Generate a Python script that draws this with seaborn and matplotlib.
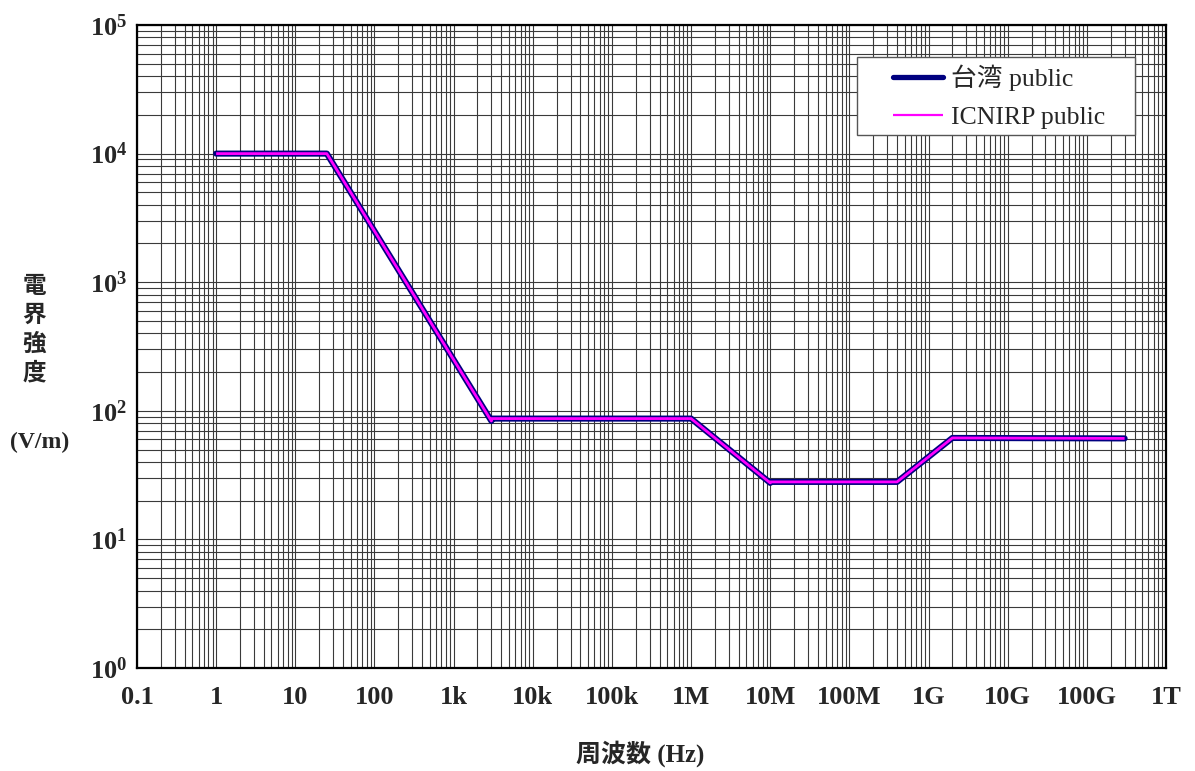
import matplotlib
matplotlib.use("Agg")
import matplotlib.pyplot as plt
import numpy as np
import pandas as pd
import seaborn as sns
from matplotlib.patches import Rectangle
from matplotlib.ticker import FixedLocator, LogLocator, NullFormatter

# Public-exposure electric field reference levels (Hz, V/m)
freq_taiwan = [1, 25, 3000, 3000, 1e6, 1e7, 1e7, 4e8, 2e9, 3e11]
field_taiwan = [10000, 10000, 83.3, 87, 87, 27.5, 28, 28, 61.5, 61]
freq_icnirp = [1, 25, 3000, 3000, 1e6, 1e7, 1e7, 4e8, 2e9, 3e11]
field_icnirp = [10000, 10000, 83.3, 87, 87, 27.5, 28, 28, 61.5, 61]

x_tick_values = [0.1, 1, 10, 100, 1e3, 1e4, 1e5, 1e6, 1e7, 1e8, 1e9, 1e10, 1e11, 1e12]
x_tick_labels = ["0.1", "1", "10", "100", "1k", "10k", "100k", "1M", "10M",
                 "100M", "1G", "10G", "100G", "1T"]
y_exponents = [0, 1, 2, 3, 4, 5]

sns.set_style("white")
plt.rcParams["mathtext.fontset"] = "custom"
plt.rcParams["mathtext.rm"] = "Liberation Serif"
plt.rcParams["mathtext.bf"] = "Liberation Serif:bold"
plt.rcParams["font.family"] = ["Liberation Serif", "Noto Sans CJK JP"]

W, H = 1195, 771


def fx(px):
    return px / W


def fy(py):
    return 1 - py / H


df_tw = pd.DataFrame({"f": freq_taiwan, "E": field_taiwan})
df_ic = pd.DataFrame({"f": freq_icnirp, "E": field_icnirp})

fig = plt.figure(figsize=(W / 100, H / 100), dpi=100)
ax = fig.add_axes([fx(137), fy(668), (1166 - 137) / W, (668 - 25) / H])

ax.set_xscale("log")
ax.set_yscale("log")
ax.set_xlim(0.1, 1e12)
ax.set_ylim(1, 1e5)

sns.lineplot(data=df_tw, x="f", y="E", ax=ax, sort=False, estimator=None,
             color="#000080", linewidth=4.4, solid_capstyle="round",
             solid_joinstyle="round", label="台湾 public", zorder=5)
sns.lineplot(data=df_ic, x="f", y="E", ax=ax, sort=False, estimator=None,
             color="#ff00ff", linewidth=2.0, solid_capstyle="butt",
             solid_joinstyle="round", label="ICNIRP public", zorder=6)

# Full log grid on both axes
ax.xaxis.set_major_locator(FixedLocator(x_tick_values))
ax.set_xticklabels(x_tick_labels)
ax.xaxis.set_minor_locator(LogLocator(base=10, subs=np.arange(2, 10), numticks=40))
ax.xaxis.set_minor_formatter(NullFormatter())
ax.yaxis.set_major_locator(FixedLocator([10.0 ** e for e in y_exponents]))
ax.set_yticklabels([r"$\mathbf{10^{%d}}$" % e for e in y_exponents])
ax.yaxis.set_minor_locator(LogLocator(base=10, subs=np.arange(2, 10), numticks=40))
ax.yaxis.set_minor_formatter(NullFormatter())
ax.grid(True, which="both", color="#3a3a3a", linewidth=0.8)
ax.set_axisbelow(True)

ax.tick_params(axis="both", which="both", length=0)
ax.tick_params(axis="x", which="major", pad=13, labelsize=19)
ax.tick_params(axis="y", which="major", pad=7, labelsize=19)
for lbl in ax.get_xticklabels():
    lbl.set_fontweight("bold")

for sp in ax.spines.values():
    sp.set_color("black")
    sp.set_linewidth(1.6)
    sp.set_visible(True)

ax.set_xlabel("")
ax.set_ylabel("")

# Axis titles
fig.text(fx(34), fy(329), "電\n界\n強\n度", ha="center", va="center",
         fontsize=17, fontweight="bold", family=["Noto Sans CJK JP"],
         linespacing=1.25)
fig.text(fx(40), fy(442), "(V/m)", ha="center", va="center",
         fontsize=17, fontweight="bold")
fig.text(fx(640), fy(754), "周波数 (Hz)", ha="center", va="center",
         fontsize=18, fontweight="bold",
         family=["Liberation Serif", "Noto Sans CJK JP"])

# Legend box and entries
box = Rectangle((fx(857), fy(135)), fx(1135) - fx(857), fy(57) - fy(135),
                transform=fig.transFigure, facecolor="white",
                edgecolor="#555555", linewidth=1.0, zorder=8, clip_on=False)
ax.add_patch(box)
leg = ax.legend(loc="upper left", bbox_to_anchor=(fx(893), fy(64)),
                bbox_transform=fig.transFigure, fontsize=18.5, frameon=False,
                handlelength=1.95, handletextpad=0.3, borderpad=0,
                labelspacing=0.62, borderaxespad=0)
leg.set_zorder(10)
for h, lw in zip(leg.get_lines(), [3.8, 1.6]):
    h.set_linewidth(lw)

fig.savefig("out.png", dpi=100)
